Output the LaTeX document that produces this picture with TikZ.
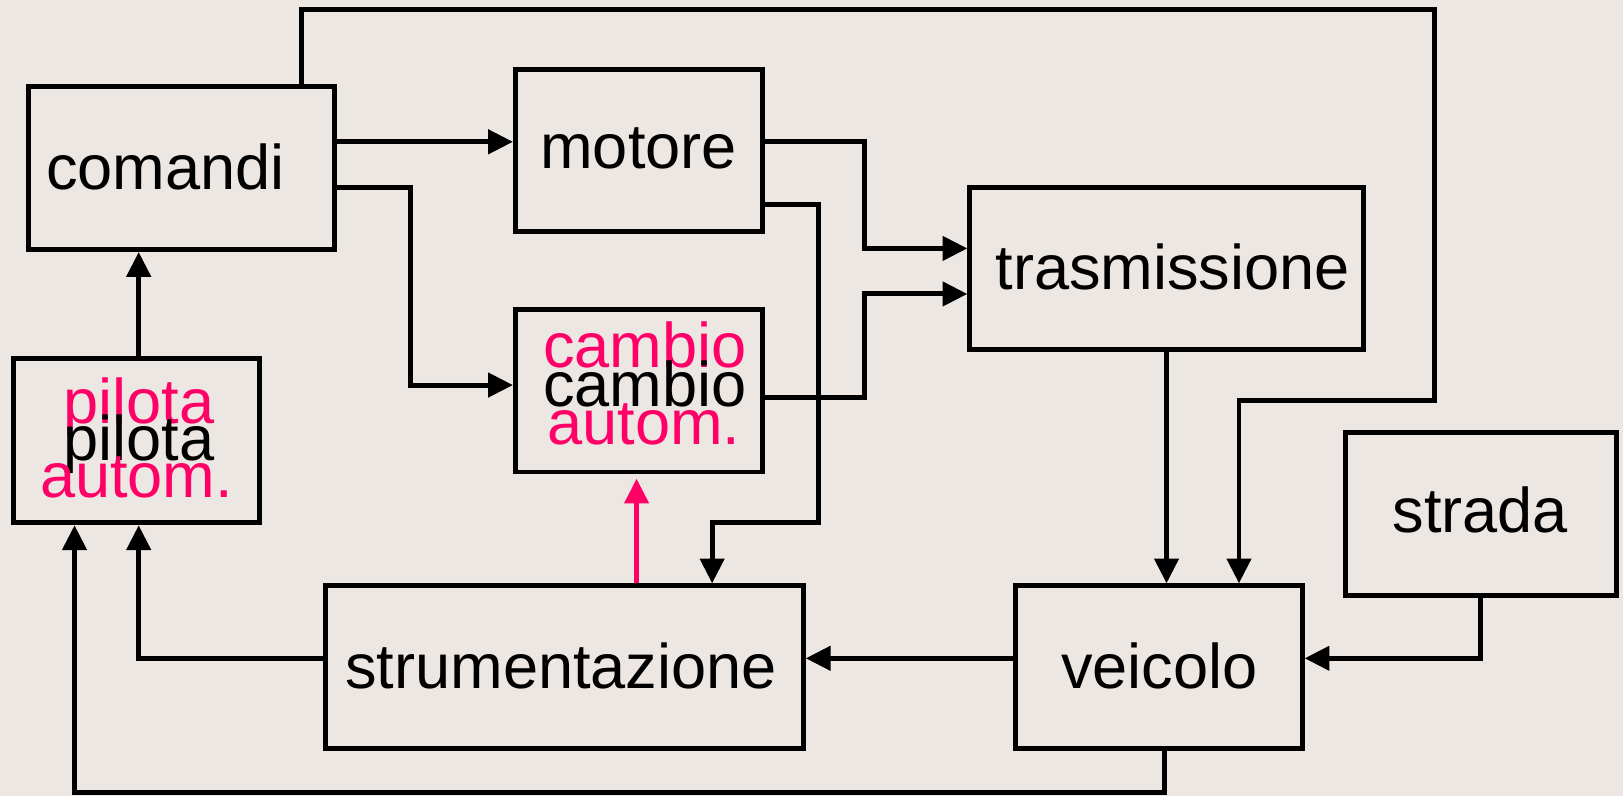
\documentclass[tikz,border=0pt]{standalone}
\usepackage{fontspec}
\setmainfont{Liberation Sans}
\usetikzlibrary{arrows.meta}
\definecolor{bg}{RGB}{236,231,227}
\definecolor{pinkc}{RGB}{255,0,102}
\begin{document}
\begin{tikzpicture}[x=1pt,y=-1pt,
  blk/.style={draw, line width=4.8pt, inner sep=0pt},
  lbl/.style={anchor=base, inner sep=0pt, font=\fontsize{61}{61}\selectfont},
  conn/.style={line width=4.8pt, -{Triangle[length=24pt,width=23pt]}},
  wire/.style={line width=4.8pt}
]
\fill[bg] (0,0) rectangle (1568,769);
\useasboundingbox (0,0) rectangle (1568,769);

% boxes
\node[blk, minimum width=295pt, minimum height=157pt] (comandi) at (175.5,162.5) {};
\node[blk, minimum width=239pt, minimum height=157pt] (motore) at (617.5,145.5) {};
\node[blk, minimum width=380pt, minimum height=157pt] (trasm) at (1127,259.5) {};
\node[blk, minimum width=239pt, minimum height=157pt] (cambio) at (617.5,377.5) {};
\node[blk, minimum width=238pt, minimum height=159pt] (pilota) at (132,425.5) {};
\node[blk, minimum width=462pt, minimum height=157pt] (strum) at (545,644.5) {};
\node[blk, minimum width=277pt, minimum height=157pt] (veicolo) at (1119.5,644.5) {};
\node[blk, minimum width=262pt, minimum height=157pt] (strada) at (1431,496.5) {};

% labels
\node[lbl] (tcomandi) at (160,183) {comandi};
\node[lbl] (tmotore) at (617,163) {motore};
\node[lbl] (ttrasm) at (1133,280) {trasmissione};
\node[lbl, text=pinkc] (tcambio1) at (623,355) {cambio};
\node[lbl] (tcambio2) at (623,393) {cambio};
\node[lbl, text=pinkc] (tcambio3) at (622,429) {autom.};
\node[lbl, text=pinkc] (tpilota1) at (134,409) {pilota};
\node[lbl] (tpilota2) at (134,445) {pilota};
\node[lbl, text=pinkc] (tpilota3) at (132,481) {autom.};
\node[lbl] (tstrum) at (542,665) {strumentazione};
\node[lbl] (tveicolo) at (1120,665) {veicolo};
\node[lbl] (tstrada) at (1430,514) {strada};

% connectors
\draw[conn] (comandi.east |- 0,137) -- (motore.west |- 0,137);
\draw[conn] (comandi.east |- 0,181) -- (397,181) -- (397,372) -- (cambio.west |- 0,372);
\draw[conn] (motore.east |- 0,137) -- (835,137) -- (835,240) -- (trasm.west |- 0,240);
\draw[conn] (motore.east |- 0,198) -- (791,198) -- (791,505) -- (688,505) -- (strum.north -| 688,0);
\draw[conn] (cambio.east |- 0,384) -- (835,384) -- (835,284) -- (trasm.west |- 0,284);
\draw[conn] (trasm.south) -- (veicolo.north -| trasm.south);
\draw[conn] (comandi.north -| 291,0) -- (291,9) -- (1386,9) -- (1386,387) -- (1197,387) -- (veicolo.north -| 1197,0);
\draw[conn] (strada.south -| 1430,0) -- (1430,636) -- (veicolo.east |- 0,636);
\draw[conn] (veicolo.west |- 0,636) -- (strum.east |- 0,636);
\draw[conn] (strum.west |- 0,636) -- (134,636) -- (pilota.south -| 134,0);
\draw[conn] (veicolo.south -| 1125,0) -- (1125,766) -- (72,766) -- (pilota.south -| 72,0);
\draw[conn] (pilota.north -| 134,0) -- (comandi.south -| 134,0);
\draw[conn, pinkc, shorten >=4pt] (strum.north -| 615,0) -- (cambio.south -| 615,0);
\end{tikzpicture}
\end{document}
